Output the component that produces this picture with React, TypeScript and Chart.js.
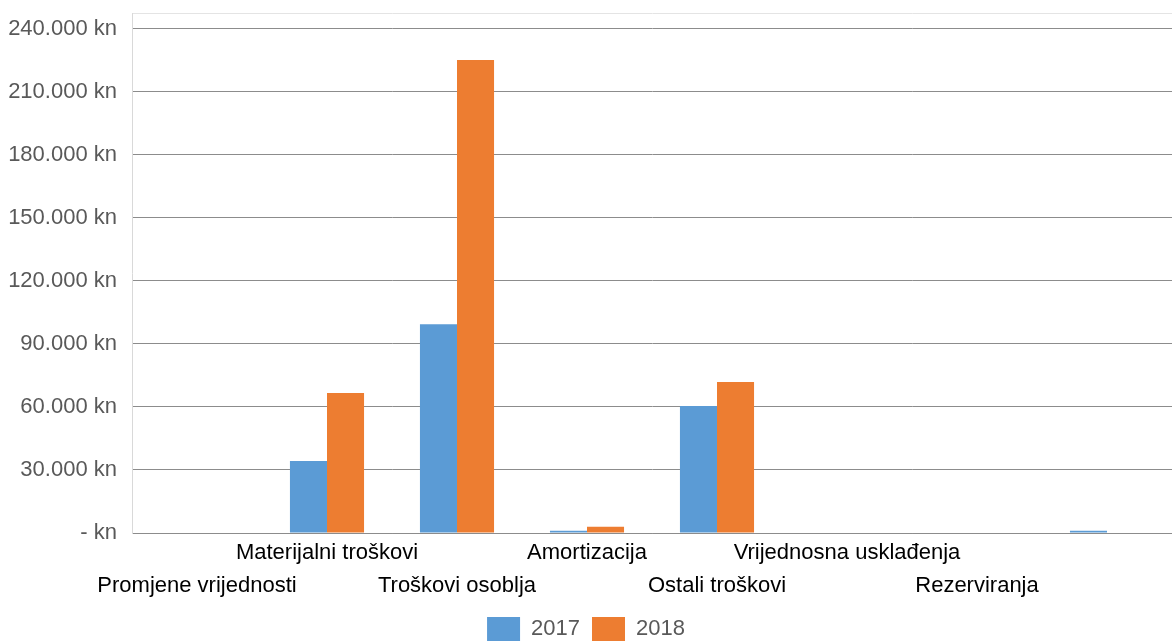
import React, { useEffect, useRef } from 'react';
import { Chart, registerables } from 'chart.js';

Chart.register(...registerables);

const categories = [
  'Promjene vrijednosti',
  'Materijalni troškovi',
  'Troškovi osoblja',
  'Amortizacija',
  'Ostali troškovi',
  'Vrijednosna usklađenja',
  'Rezerviranja',
  '',
];
const seriesNames = ['2017', '2018'];
const values2017 = [0, 34300, 99400, 1100, 60500, 0, 0, 1100];
const values2018 = [0, 66700, 225200, 3000, 71900, 0, 0, 0];
const yTickValues = [0, 30000, 60000, 90000, 120000, 150000, 180000, 210000, 240000];
const yAxisMax = 247600;

function formatKn(v: number): string {
  if (v === 0) return '- kn';
  return String(Math.round(v)).replace(/\B(?=(\d{3})+(?!\d))/g, '.') + ' kn';
}

export default function App() {
  const ref = useRef<HTMLCanvasElement | null>(null);

  useEffect(() => {
    if (!ref.current) return;
    const FONT = '"Liberation Sans", Arial, sans-serif';
    const chart = new Chart(ref.current, {
      type: 'bar',
      data: {
        labels: categories,
        datasets: [
          {
            label: seriesNames[0],
            data: values2017,
            backgroundColor: '#5B9BD5',
            borderWidth: 0,
          },
          {
            label: seriesNames[1],
            data: values2018,
            backgroundColor: '#ED7D31',
            borderWidth: 0,
          },
        ],
      },
      options: {
        animation: false,
        responsive: true,
        maintainAspectRatio: false,
        layout: { padding: { left: 0, top: 13, right: 0, bottom: 0 } },
        datasets: {
          bar: { categoryPercentage: 0.57, barPercentage: 1.0 },
        },
        plugins: {
          tooltip: { enabled: false },
          legend: {
            position: 'bottom',
            labels: {
              boxWidth: 33,
              boxHeight: 24,
              padding: 12,
              color: '#595959',
              font: { family: FONT, size: 22 },
            },
          },
        },
        scales: {
          x: {
            grid: { display: false, drawTicks: false },
            border: { display: true, color: '#8c8c8c', width: 1 },
            ticks: {
              autoSkip: false,
              maxRotation: 0,
              minRotation: 0,
              padding: 3,
              color: '#000000',
              font: { family: FONT, size: 22, lineHeight: 1.5 },
              callback: (_v: any, index: number) => {
                const l = categories[index];
                return index % 2 === 0 ? ['', l] : [l, ''];
              },
            },
          },
          y: {
            min: 0,
            max: yAxisMax,
            afterBuildTicks: (axis: any) => {
              axis.ticks = [...yTickValues, yAxisMax].map((v) => ({ value: v }));
            },
            afterFit: (axis: any) => {
              axis.width = 132;
              axis.paddingTop = 0;
              axis.paddingBottom = 0;
            },
            grid: {
              drawTicks: false,
              color: (ctx: any) => (ctx.tick && ctx.tick.value > yTickValues[yTickValues.length - 1] ? '#e4e4e4' : '#8c8c8c'),
            },
            border: { display: true, color: '#d9d9d9', width: 1 },
            ticks: {
              padding: 15,
              color: '#595959',
              font: { family: FONT, size: 22 },
              callback: (v: any) => (Number(v) > yTickValues[yTickValues.length - 1] ? '' : formatKn(Number(v))),
            },
          },
        },
      },
    });
    return () => chart.destroy();
  }, []);

  return (
    <div style={{ position: 'fixed', left: 0, top: 0, width: 1172, height: 651, background: '#ffffff' }}>
      <canvas ref={ref} />
    </div>
  );
}
